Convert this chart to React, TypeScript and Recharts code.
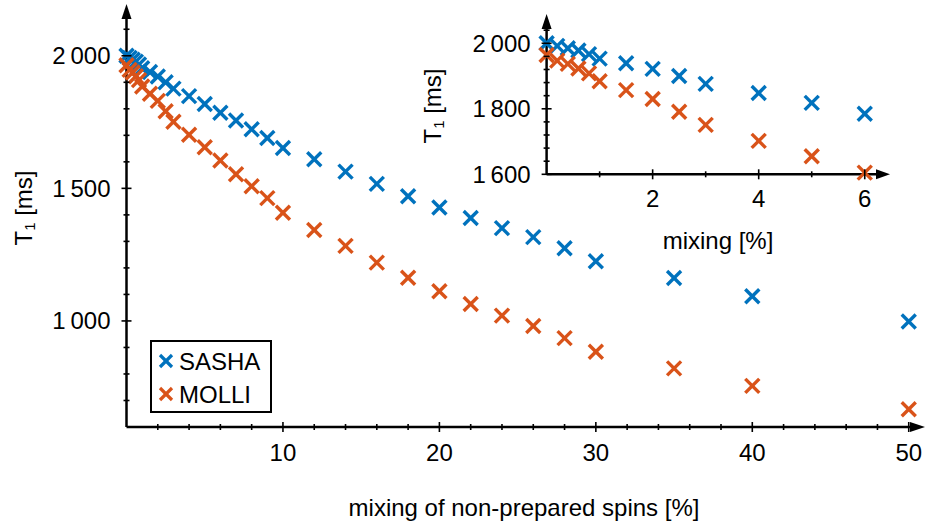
import { ScatterChart, Scatter, XAxis, YAxis } from "recharts";

// mixing of non-prepared spins [%]
const mixing = [0, 0.2, 0.4, 0.6, 0.8, 1, 1.5, 2, 2.5, 3, 4, 5, 6, 7, 8, 9, 10, 12, 14, 16, 18, 20, 22, 24, 26, 28, 30, 35, 40, 50];
// T1 [ms]
const sasha = [2000, 1992, 1985, 1978, 1967, 1953, 1939, 1922, 1900, 1876, 1848, 1818, 1785, 1756, 1723, 1690, 1652, 1610, 1563, 1517, 1470, 1428, 1388, 1350, 1316, 1274, 1225, 1162, 1093, 998];
const molli = [1964, 1947, 1937, 1923, 1908, 1884, 1857, 1830, 1791, 1751, 1702, 1655, 1605, 1553, 1508, 1463, 1408, 1343, 1283, 1220, 1163, 1112, 1064, 1020, 981, 935, 884, 821, 755, 667];

const mainXTicks = [2, 4, 6, 8, 10, 12, 14, 16, 18, 20, 22, 24, 26, 28, 30, 32, 34, 36, 38, 40, 42, 44, 46, 48, 50];
const mainXLabels = [10, 20, 30, 40, 50];
const mainYTicks = [700, 800, 900, 1000, 1100, 1200, 1300, 1400, 1500, 1600, 1700, 1800, 1900, 2000, 2100];
const mainYLabels = [1000, 1500, 2000];

const insetXTicks = [1, 2, 3, 4, 5, 6];
const insetXLabels = [2, 4, 6];
const insetYTicks = [1600, 1640, 1680, 1720, 1760, 1800, 1840, 1880, 1920, 1960, 2000, 2040];
const insetYLabels = [1600, 1800, 2000];

const BLUE = "#0072BD";
const RED = "#D95319";
const FONT = "'Liberation Sans', Arial, Helvetica, sans-serif";
const FS = 24;

const sashaData = mixing.map((x, i) => ({ x, y: sasha[i] }));
const molliData = mixing.map((x, i) => ({ x, y: molli[i] }));
const insetMax = 6;

const fmt = (v: number) =>
  v >= 1000 ? `${Math.floor(v / 1000)}\u2009${String(v % 1000).padStart(3, "0")}` : `${v}`;

function Cross({ cx, cy, color }: { cx: number; cy: number; color: string }) {
  const s = 7;
  return (
    <g stroke={color} strokeWidth={3.4}>
      <line x1={cx - s} y1={cy - s} x2={cx + s} y2={cy + s} />
      <line x1={cx - s} y1={cy + s} x2={cx + s} y2={cy - s} />
    </g>
  );
}

function XTick(props: any) {
  const { x, y, payload, labels, dy } = props;
  const major = labels.includes(payload.value);
  const h = major ? 5 : 3;
  return (
    <g>
      <line x1={x} x2={x} y1={y - h} y2={y + h} stroke="#000" strokeWidth={1.6} />
      {major && (
        <text x={x} y={y + dy} textAnchor="middle" dominantBaseline="central" fontSize={FS} fontFamily={FONT} fill="#000">
          {fmt(payload.value)}
        </text>
      )}
    </g>
  );
}

function YTick(props: any) {
  const { x, y, payload, labels } = props;
  const major = labels.includes(payload.value);
  const h = major ? 5 : 3;
  return (
    <g>
      <line x1={x - h} x2={x + h} y1={y} y2={y} stroke="#000" strokeWidth={1.6} />
      {major && (
        <text x={x - 16} y={y} textAnchor="end" dominantBaseline="central" fontSize={FS} fontFamily={FONT} fill="#000">
          {fmt(payload.value)}
        </text>
      )}
    </g>
  );
}

const axisLine = { stroke: "#000", strokeWidth: 2.5 };

export default function App() {
  return (
    <div style={{ position: "absolute", left: 0, top: 0, width: 929, height: 522, overflow: "hidden", background: "#fff", fontFamily: FONT }}>
      <div style={{ position: "absolute", left: 0, top: 0 }}>
        <ScatterChart width={929} height={522} margin={{ top: 16, right: 14, left: 0, bottom: 0 }}>
          <XAxis
            type="number"
            dataKey="x"
            domain={[0, 50.4]}
            ticks={mainXTicks}
            interval={0}
            height={95}
            axisLine={axisLine}
            tickLine={false}
            tickSize={0}
            tickMargin={0}
            tick={(p: any) => <XTick {...p} labels={mainXLabels} dy={25} />}
          />
          <YAxis
            type="number"
            dataKey="y"
            domain={[600, 2150]}
            ticks={mainYTicks}
            interval={0}
            width={126.5}
            axisLine={axisLine}
            tickLine={false}
            tickSize={0}
            tickMargin={0}
            tick={(p: any) => <YTick {...p} labels={mainYLabels} />}
          />
          <Scatter name="SASHA" data={sashaData} isAnimationActive={false}
            shape={(p: any) => <Cross cx={p.cx} cy={p.cy} color={BLUE} />} />
          <Scatter name="MOLLI" data={molliData} isAnimationActive={false}
            shape={(p: any) => <Cross cx={p.cx} cy={p.cy} color={RED} />} />
        </ScatterChart>
      </div>

      <div style={{ position: "absolute", left: 400, top: 0 }}>
        <ScatterChart width={500} height={260} margin={{ top: 26.9, right: 22, left: 0, bottom: 0 }}>
          <XAxis
            type="number"
            dataKey="x"
            domain={[0, 6.25]}
            ticks={insetXTicks}
            interval={0}
            height={85.7}
            axisLine={axisLine}
            tickLine={false}
            tickSize={0}
            tickMargin={0}
            tick={(p: any) => <XTick {...p} labels={insetXLabels} dy={24} />}
          />
          <YAxis
            type="number"
            dataKey="y"
            domain={[1600, 2050]}
            ticks={insetYTicks}
            interval={0}
            width={146.6}
            axisLine={axisLine}
            tickLine={false}
            tickSize={0}
            tickMargin={0}
            tick={(p: any) => <YTick {...p} labels={insetYLabels} />}
          />
          <Scatter name="SASHA" data={sashaData.filter((d) => d.x <= insetMax)} isAnimationActive={false}
            shape={(p: any) => <Cross cx={p.cx} cy={p.cy} color={BLUE} />} />
          <Scatter name="MOLLI" data={molliData.filter((d) => d.x <= insetMax)} isAnimationActive={false}
            shape={(p: any) => <Cross cx={p.cx} cy={p.cy} color={RED} />} />
        </ScatterChart>
      </div>

      {/* arrows and axis titles */}
      <svg width={929} height={522} style={{ position: "absolute", left: 0, top: 0, pointerEvents: "none" }}>
        <polygon points="925,427 910,422 910,432" fill="#000" />
        <polygon points="126.5,4 121.5,19 131.5,19" fill="#000" />
        <polygon points="890,174.3 876,169.3 876,179.3" fill="#000" />
        <polygon points="546.6,14 541.6,29 551.6,29" fill="#000" />
        <text x={524} y={507} textAnchor="middle" dominantBaseline="central" fontSize={FS} fontFamily={FONT}>
          mixing of non-prepared spins [%]
        </text>
        <text transform="translate(23,208) rotate(-90)" textAnchor="middle" dominantBaseline="central" fontSize={FS} fontFamily={FONT}>
          T<tspan fontSize={15} dy={6}>1</tspan><tspan dy={-6}> [ms]</tspan>
        </text>
        <text x={718} y={240} textAnchor="middle" dominantBaseline="central" fontSize={FS} fontFamily={FONT}>
          mixing [%]
        </text>
        <text transform="translate(432,106) rotate(-90)" textAnchor="middle" dominantBaseline="central" fontSize={FS} fontFamily={FONT}>
          T<tspan fontSize={15} dy={6}>1</tspan><tspan dy={-6}> [ms]</tspan>
        </text>
      </svg>

      {/* legend */}
      <div style={{ position: "absolute", left: 150, top: 340, width: 118, height: 69, border: "2px solid #000", background: "#fff" }}>
        {[{ name: "SASHA", color: BLUE }, { name: "MOLLI", color: RED }].map((s) => (
          <div key={s.name} style={{ display: "flex", alignItems: "center", height: 33, marginTop: s.name === "SASHA" ? 3 : 0 }}>
            <svg width={26} height={20}>
              <g stroke={s.color} strokeWidth={3.2}>
                <line x1={8} y1={3} x2={20} y2={15} />
                <line x1={8} y1={15} x2={20} y2={3} />
              </g>
            </svg>
            <span style={{ fontSize: FS, lineHeight: "24px", marginLeft: 1 }}>{s.name}</span>
          </div>
        ))}
      </div>
    </div>
  );
}
